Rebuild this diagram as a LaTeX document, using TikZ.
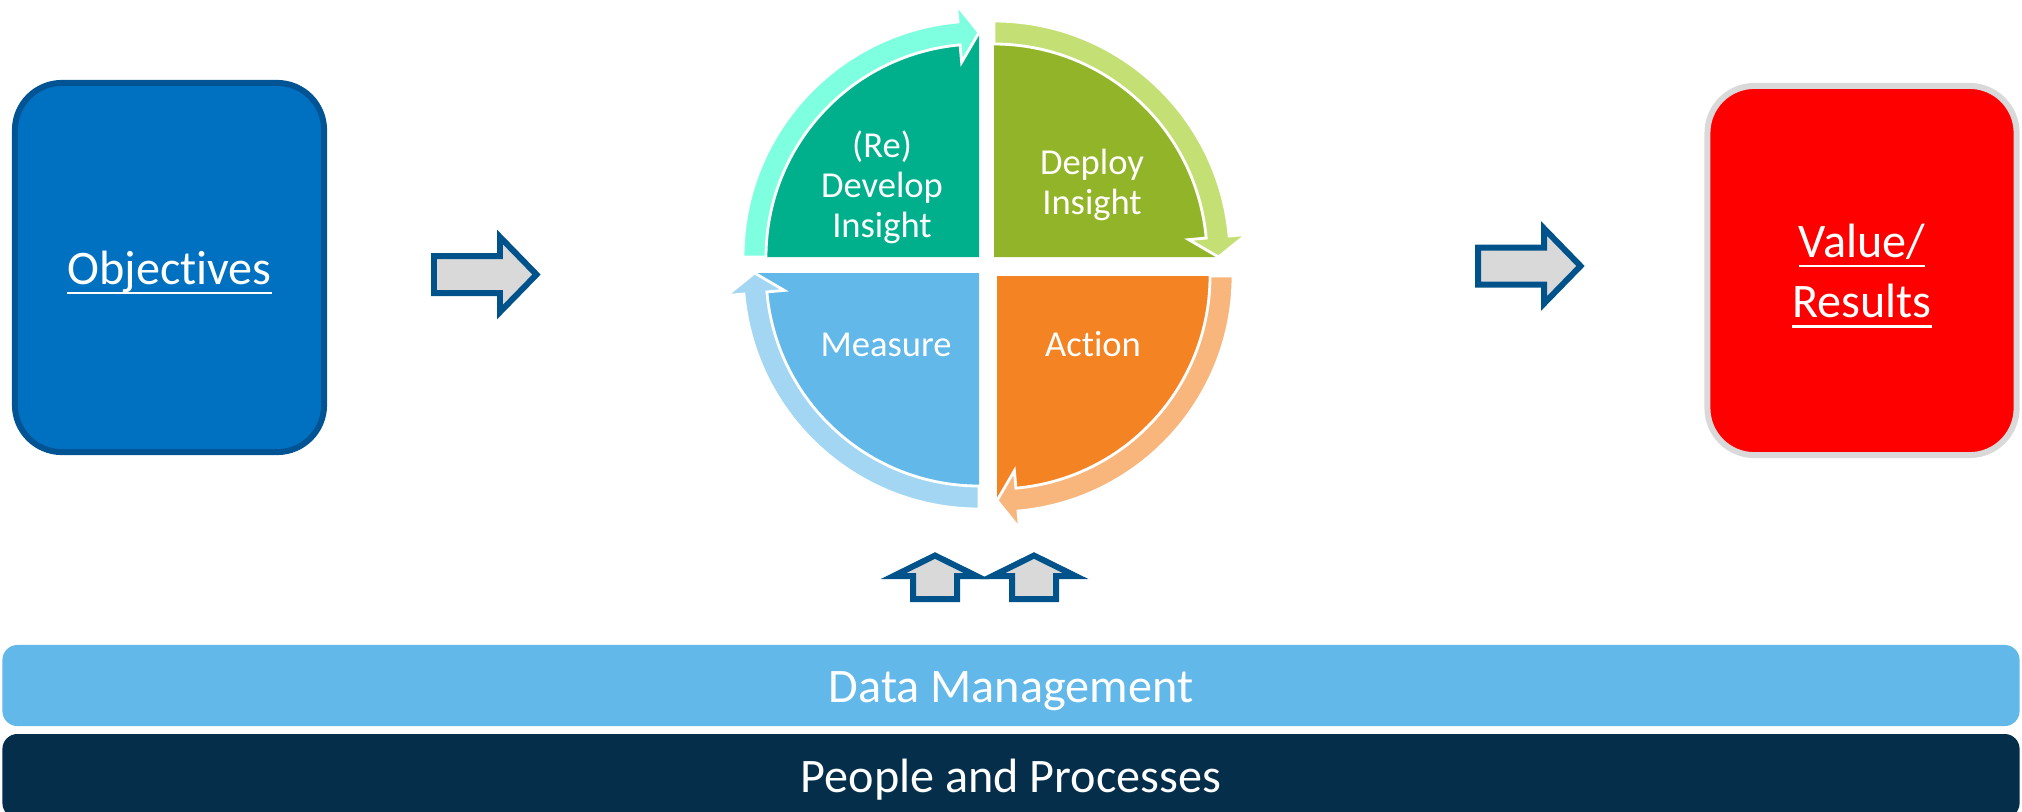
\documentclass[tikz,border=0pt]{standalone}
\usepackage{fontspec}
\setmainfont{Carlito}[Ligatures={NoCommon}]
\usetikzlibrary{positioning}
\definecolor{objblue}{RGB}{0,112,192}
\definecolor{objedge}{RGB}{0,84,147}
\definecolor{resred}{RGB}{255,0,0}
\definecolor{resedge}{RGB}{217,217,217}
\definecolor{arrowedge}{RGB}{0,83,138}
\definecolor{arrowgray}{RGB}{217,217,217}
\definecolor{devfill}{RGB}{0,176,140}
\definecolor{devband}{RGB}{125,255,224}
\definecolor{depfill}{RGB}{146,180,41}
\definecolor{depband}{RGB}{196,224,116}
\definecolor{actfill}{RGB}{244,131,35}
\definecolor{actband}{RGB}{248,182,125}
\definecolor{measfill}{RGB}{98,184,232}
\definecolor{measband}{RGB}{162,214,242}
\definecolor{datablue}{RGB}{98,184,233}
\definecolor{peoplenavy}{RGB}{4,46,73}
% subrayado a profundidad fija
\newcommand{\ulined}[1]{\setbox0\hbox{#1}\rlap{\rule[-2.8pt]{\wd0}{0.6pt}}\box0}

\begin{document}
\begin{tikzpicture}[x=0.01cm, y=-0.01cm,
  bigbox/.style={rounded corners=0.47cm, line width=1.7pt, minimum width=3.09cm,
    minimum height=3.69cm, text=white, align=center,
    font=\fontsize{13.7}{17.1}\selectfont},
  strip/.style={minimum width=20.16cm, rounded corners=0.15cm, text=white,
    text height=0.33cm, text depth=0pt, font=\fontsize{13.7}{17.1}\selectfont},
  blockarrow/.style={draw=arrowedge, fill=arrowgray, line width=1.7pt},
  cyclering/.style={draw=white, line width=0.8pt},
  celltext/.style={text=white, align=center, font=\fontsize{10.4}{11.4}\selectfont}]

\useasboundingbox (0,0) rectangle (2022,811);

% === Objetivos y resultados ===
\node[bigbox, fill=objblue, draw=objedge, text height=0.33cm, text depth=0pt]
    (objectives) at (169.5,267.5) {\ulined{Objectives}};
\node[bigbox, fill=resred, draw=resedge] (results) at (1862,270.5)
    {\rule{0pt}{0.44cm}\ulined{Value/}\\\ulined{Results}};

% === Ciclo ===
% (Re) Develop Insight
\begin{scope}[shift={(979,257)}]
    \fill[devfill] (0,0) -- (180:225) arc[start angle=180, end angle=270, radius=225] -- cycle;
    \filldraw[fill=devband, cyclering] (180:213) arc[start angle=180, end angle=264.9, radius=213]
        -- (264.9:195.5) -- (270:224.5) -- (264.9:253.5) -- (264.9:236)
        arc[start angle=264.9, end angle=180, radius=236] -- cycle;
\end{scope}

% Deploy Insight
\begin{scope}[shift={(994,257)}]
    \fill[depfill] (0,0) -- (270:225) arc[start angle=270, end angle=360, radius=225] -- cycle;
    \filldraw[fill=depband, cyclering] (270:213) arc[start angle=270, end angle=354.9, radius=213]
        -- (354.9:195.5) -- (360:224.5) -- (354.9:253.5) -- (354.9:236)
        arc[start angle=354.9, end angle=270, radius=236] -- cycle;
\end{scope}

% Action
\begin{scope}[shift={(997,276)}]
    \fill[actfill] (0,0) -- (0:225) arc[start angle=0, end angle=90, radius=225] -- cycle;
    \filldraw[fill=actband, cyclering] (0:213) arc[start angle=0, end angle=84.9, radius=213]
        -- (84.9:195.5) -- (90:224.5) -- (84.9:253.5) -- (84.9:236)
        arc[start angle=84.9, end angle=0, radius=236] -- cycle;
\end{scope}

% Measure
\begin{scope}[shift={(979,273)}]
    \fill[measfill] (0,0) -- (90:225) arc[start angle=90, end angle=180, radius=225] -- cycle;
    \filldraw[fill=measband, cyclering] (90:213) arc[start angle=90, end angle=174.9, radius=213]
        -- (174.9:195.5) -- (180:224.5) -- (174.9:253.5) -- (174.9:236)
        arc[start angle=174.9, end angle=90, radius=236] -- cycle;
\end{scope}

\node[celltext] (develop) at (882,187) {(Re)\\Develop\\Insight};
\node[celltext] (deploy) at (1092,185) {Deploy\\Insight};
\node[celltext, anchor=base] (measure) at (886,356) {Measure};
\node[celltext, anchor=base] (action) at (1093,356) {Action};

% === Flechas ===
\draw[blockarrow] (434,256) -- (500,256) -- (500,237) -- (536.5,274.5)
    -- (500,312) -- (500,293) -- (434,293) -- cycle;
\draw[blockarrow] (1478,247.5) -- (1544,247.5) -- (1544,228.5) -- (1580.5,266)
    -- (1544,303.5) -- (1544,284.5) -- (1478,284.5) -- cycle;
\draw[blockarrow] (913,599) -- (913,576) -- (893.5,576) -- (935,555.5)
    -- (976.5,576) -- (957,576) -- (957,599) -- cycle;
\draw[blockarrow] (1012,599) -- (1012,576) -- (992.5,576) -- (1034,555.5)
    -- (1075.5,576) -- (1056,576) -- (1056,599) -- cycle;

% === Bandas inferiores ===
\node[strip, fill=datablue, minimum height=0.81cm] (data) at (1011,685.5) {Data Management};
\node[strip, fill=peoplenavy, minimum height=0.84cm] (people) at (1011,776) {People and Processes};

\end{tikzpicture}
\end{document}
